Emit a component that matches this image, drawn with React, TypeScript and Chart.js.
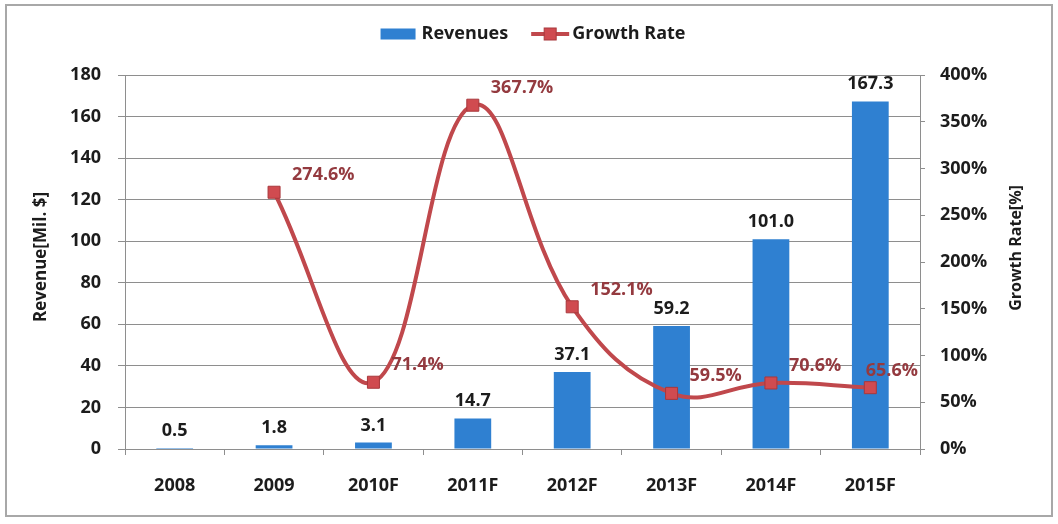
import React, { useEffect, useRef } from 'react';
import { Chart, registerables } from 'chart.js';

Chart.register(...registerables);

const categories = ['2008', '2009', '2010F', '2011F', '2012F', '2013F', '2014F', '2015F'];
const revenues = [0.5, 1.8, 3.1, 14.7, 37.1, 59.2, 101.0, 167.3];
const growthRates: (number | null)[] = [null, 274.6, 71.4, 367.7, 152.1, 59.5, 70.6, 65.6];
const revenueAxis = { min: 0, max: 180, step: 20 };
const growthAxis = { min: 0, max: 400, step: 50 };
const seriesNames = ['Revenues', 'Growth Rate'];
const axisTitles = ['Revenue[Mil. $]', 'Growth Rate[%]'];

const FONT = "'Open Sans', 'DejaVu Sans', sans-serif";
const BAR_COLOR = '#2f80d1';
const LINE_COLOR = '#c0484c';
const POINT_COLOR = '#d04b50';
const GROWTH_LABEL = '#943a3f';
const TEXT = '#1c1c1c';
const GRID = '#8e8e8e';

const framePlugin = {
  id: 'frame',
  beforeDraw(chart: any) {
    const { ctx, width, height } = chart;
    ctx.save();
    ctx.fillStyle = '#ffffff';
    ctx.fillRect(0, 0, width, height);
    ctx.strokeStyle = '#a8a8a8';
    ctx.lineWidth = 2;
    ctx.strokeRect(6, 5, width - 12, height - 13);
    ctx.restore();
  },
};

const legendPlugin = {
  id: 'customLegend',
  afterDraw(chart: any) {
    const { ctx, width } = chart;
    ctx.save();
    ctx.font = `bold 18px ${FONT}`;
    ctx.textBaseline = 'middle';
    const y = 34;
    const w1 = ctx.measureText(seriesNames[0]).width;
    const w2 = ctx.measureText(seriesNames[1]).width;
    const boxW = 35, gap1 = 6, itemGap = 23, lineW = 38, gap2 = 3;
    const total = boxW + gap1 + w1 + itemGap + lineW + gap2 + w2;
    let x = width / 2 + 4 - total / 2;
    ctx.fillStyle = BAR_COLOR;
    ctx.fillRect(x, y - 5.5, boxW, 11);
    x += boxW + gap1;
    ctx.fillStyle = TEXT;
    ctx.textAlign = 'left';
    ctx.fillText(seriesNames[0], x, y);
    x += w1 + itemGap;
    ctx.strokeStyle = LINE_COLOR;
    ctx.lineWidth = 4;
    ctx.beginPath();
    ctx.moveTo(x, y);
    ctx.lineTo(x + lineW, y);
    ctx.stroke();
    ctx.fillStyle = POINT_COLOR;
    ctx.fillRect(x + lineW / 2 - 6, y - 6, 12, 12);
    ctx.strokeStyle = '#a8383c';
    ctx.lineWidth = 1;
    ctx.strokeRect(x + lineW / 2 - 6, y - 6, 12, 12);
    x += lineW + gap2;
    ctx.fillStyle = TEXT;
    ctx.fillText(seriesNames[1], x, y);
    ctx.restore();
  },
};

const titlesPlugin = {
  id: 'axisTitles',
  afterDraw(chart: any) {
    const { ctx, chartArea } = chart;
    const cy = (chartArea.top + chartArea.bottom) / 2;
    ctx.save();
    ctx.fillStyle = TEXT;
    ctx.textAlign = 'center';
    ctx.textBaseline = 'middle';
    ctx.font = `bold 17px ${FONT}`;
    ctx.save();
    ctx.translate(chartArea.left - 84, cy - 5);
    ctx.rotate(-Math.PI / 2);
    ctx.fillText(axisTitles[0], 0, 0);
    ctx.restore();
    ctx.font = `bold 16px ${FONT}`;
    ctx.save();
    ctx.translate(chartArea.right + 96, cy - 14);
    ctx.rotate(-Math.PI / 2);
    ctx.fillText(axisTitles[1], 0, 0);
    ctx.restore();
    ctx.restore();
  },
};

const dataLabelPlugin = {
  id: 'dataLabels',
  afterDatasetsDraw(chart: any) {
    const { ctx, chartArea } = chart;
    ctx.save();
    ctx.font = `bold 18px ${FONT}`;
    ctx.textBaseline = 'alphabetic';
    chart.data.datasets.forEach((ds: any, di: number) => {
      const meta = chart.getDatasetMeta(di);
      meta.data.forEach((el: any, i: number) => {
        const v = ds.data[i];
        if (v === null || v === undefined) return;
        if (ds.type === 'bar') {
          ctx.fillStyle = TEXT;
          ctx.textAlign = 'center';
          ctx.fillText(Number(v).toFixed(1), el.x, el.y - 12);
        } else {
          const text = Number(v).toFixed(1) + '%';
          const w = ctx.measureText(text).width;
          let left = el.x + 18;
          if (left + w > chartArea.right - 2) left = chartArea.right - 2 - w;
          ctx.fillStyle = GROWTH_LABEL;
          ctx.textAlign = 'left';
          ctx.fillText(text, left, el.y - 12);
        }
      });
    });
    ctx.restore();
  },
};

export default function App() {
  const ref = useRef<HTMLCanvasElement | null>(null);

  useEffect(() => {
    document.body.style.margin = '0';
    const canvas = ref.current;
    if (!canvas) return;
    const tickFont = { family: FONT, size: 18, weight: 'bold' as const };
    const chart = new Chart(canvas, {
      data: {
        labels: categories,
        datasets: [
          {
            type: 'line' as const,
            label: seriesNames[1],
            data: growthRates,
            yAxisID: 'y1',
            order: 0,
            borderColor: LINE_COLOR,
            borderWidth: 4,
            tension: 0.4,
            pointStyle: 'rect',
            pointRadius: 8.5,
            pointBackgroundColor: POINT_COLOR,
            pointBorderColor: '#a8383c',
            pointBorderWidth: 1,
            spanGaps: false,
          },
          {
            type: 'bar' as const,
            label: seriesNames[0],
            data: revenues,
            yAxisID: 'y',
            order: 1,
            backgroundColor: BAR_COLOR,
            barPercentage: 0.37,
            categoryPercentage: 1,
          },
        ],
      } as any,
      options: {
        responsive: false,
        animation: false,
        devicePixelRatio: 1,
        layout: { padding: { top: 75, left: 0, right: 0, bottom: 0 } },
        plugins: {
          legend: { display: false },
          tooltip: { enabled: false },
        },
        scales: {
          x: {
            type: 'category',
            offset: true,
            grid: { display: true, drawOnChartArea: false, drawTicks: true, tickLength: 6, color: GRID, offset: true },
            border: { color: GRID, width: 1 },
            ticks: { font: tickFont, color: TEXT, padding: 20 },
            afterFit: (s: any) => { s.height = 75; },
          },
          y: {
            position: 'left',
            min: revenueAxis.min,
            max: revenueAxis.max,
            ticks: { stepSize: revenueAxis.step, font: tickFont, color: TEXT, padding: 17 },
            grid: { color: GRID, tickLength: 7, drawTicks: true },
            border: { color: GRID, width: 1 },
            afterFit: (s: any) => { s.width = 125; },
          },
          y1: {
            position: 'right',
            min: growthAxis.min,
            max: growthAxis.max,
            ticks: { stepSize: growthAxis.step, font: tickFont, color: TEXT, padding: 15, callback: (v: any) => v + '%' },
            grid: { drawOnChartArea: false, tickLength: 5, color: GRID },
            border: { color: GRID, width: 1 },
            afterFit: (s: any) => { s.width = 138; },
          },
        } as any,
      },
      plugins: [framePlugin, dataLabelPlugin, titlesPlugin, legendPlugin],
    });
    return () => chart.destroy();
  }, []);

  return <canvas ref={ref} width={1058} height={524} style={{ display: 'block' }} />;
}
